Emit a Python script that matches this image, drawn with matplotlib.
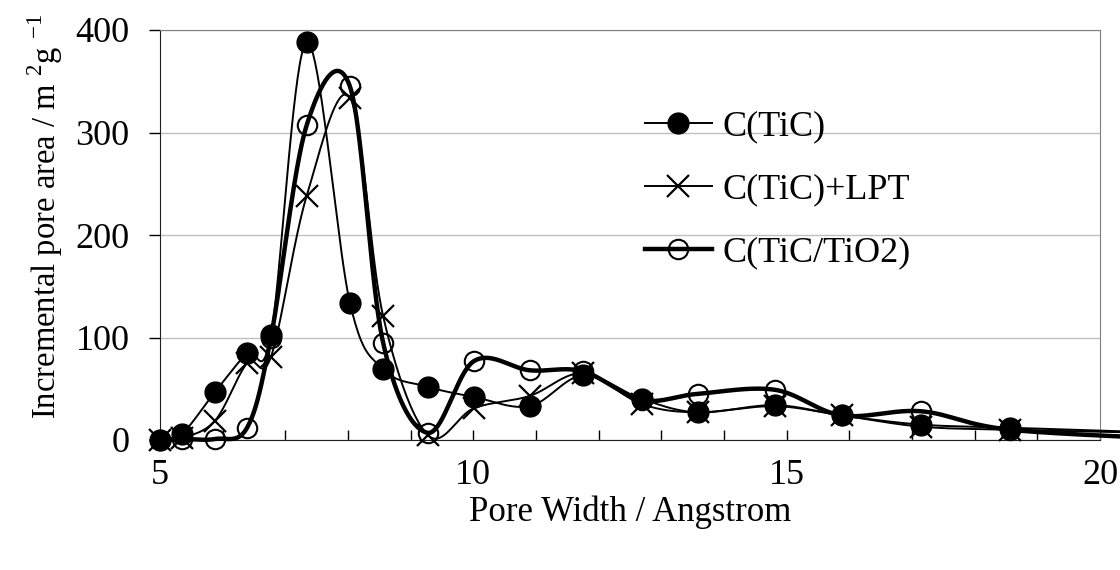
import numpy as np
import matplotlib
matplotlib.use('Agg')
import matplotlib.pyplot as plt
from matplotlib.lines import Line2D

plt.rcParams['font.family'] = ['Liberation Serif', 'DejaVu Serif']
plt.rcParams['mathtext.fontset'] = 'custom'
plt.rcParams['mathtext.rm'] = 'Liberation Serif'

# pore widths (Angstrom); last point lies beyond the axis edge
width = [5.0, 5.35, 5.88, 6.39, 6.77, 7.34, 8.03, 8.56, 9.27, 10.01, 10.9,
         11.75, 12.69, 13.58, 14.81, 15.88, 17.15, 18.57, 21.6]
tic = [0, 6, 47, 85, 102, 388, 134, 69, 52, 42, 33,
       63, 40, 27, 34, 24, 15, 12, 6]
tic_lpt = [0, 2, 19, 75, 81, 238, 334, 121, 5, 31, 43,
           65, 35, 27, 33, 24, 13, 10, 6]
tic_tio2 = [0, 1, 1, 12, 100, 307, 345, 95, 7, 77, 68,
            67, 39, 45, 49, 24, 28, 10, 0]


def smooth(x, y, n=40):
    # excel-like smoothed line (bezier through the points)
    pts = np.column_stack([x, y]).astype(float)
    out = []
    for i in range(len(pts) - 1):
        p0 = pts[i - 1] if i > 0 else pts[i]
        p1, p2 = pts[i], pts[i + 1]
        p3 = pts[i + 2] if i + 2 < len(pts) else pts[i + 1]
        c1 = p1 + (p2 - p0) / 6
        c2 = p2 - (p3 - p1) / 6
        t = np.linspace(0, 1, n)[:, None]
        seg = (1-t)**3*p1 + 3*(1-t)**2*t*c1 + 3*(1-t)*t**2*c2 + t**3*p2
        out.append(seg if i == 0 else seg[1:])
    return np.vstack(out)


fig = plt.figure(figsize=(11.2, 5.7), dpi=100)
ax = fig.add_axes([160/1120, 1-440/570, 940/1120, 410/570])

# C(TiC/TiO2) - thick line, open circles
s = smooth(width, tic_tio2)
ax.plot(s[:, 0], s[:, 1], color='black', lw=3.2, clip_on=False, zorder=3)
ax.plot(width, tic_tio2, ls='none', marker='o', ms=14, mfc='none', mec='black',
        mew=1.5, clip_on=False, zorder=3)

# C(TiC)+LPT - crosses
s = smooth(width, tic_lpt)
ax.plot(s[:, 0], s[:, 1], color='black', lw=1.4, clip_on=False, zorder=4)
ax.plot(width, tic_lpt, ls='none', marker='x', ms=16, mec='black',
        mew=1.6, clip_on=False, zorder=4)

# C(TiC) - filled circles
s = smooth(width, tic)
ax.plot(s[:, 0], s[:, 1], color='black', lw=1.4, clip_on=False, zorder=5)
ax.plot(width, tic, ls='none', marker='o', ms=15, mfc='black', mec='black',
        clip_on=False, zorder=5)

ax.set_xlim(5, 20)
ax.set_ylim(0, 400)
ax.set_xticks([5, 10, 15, 20])
ax.set_xticks(np.arange(5, 21, 1), minor=True)
ax.set_yticks([0, 100, 200, 300, 400])
ax.tick_params(axis='x', which='both', direction='in', length=7, width=1,
               labelsize=26, pad=14)
ax.tick_params(axis='y', direction='out', length=8, width=1, labelsize=26, pad=14)
ax.grid(axis='y', color='#c0c0c0', lw=1)
ax.set_axisbelow(True)
for side in ['top', 'right']:
    ax.spines[side].set_color('#808080')
for side in ['left', 'bottom']:
    ax.spines[side].set_color('#202020')

ax.set_xlabel('Pore Width / Angstrom', fontsize=25, labelpad=2)
ax.set_ylabel('Incremental pore area / m $^{2}$g $^{-1}$', fontsize=23.5)
ax.yaxis.set_label_coords(-95/940, 0.545)

handles = [
    Line2D([], [], color='black', lw=1.4, marker='o', ms=15, mfc='black'),
    Line2D([], [], color='black', lw=1.4, marker='x', ms=16, mew=1.6),
    Line2D([], [], color='black', lw=3.2, marker='o', ms=14, mfc='none', mew=1.5),
]
ax.legend(handles, ['C(TiC)', 'C(TiC)+LPT', 'C(TiC/TiO2)'], frameon=False,
          fontsize=26, loc='upper left', bbox_to_anchor=(645/1120, 1-110/570),
          bbox_transform=fig.transFigure, handlelength=1.85, handletextpad=0.3,
          labelspacing=0.83, borderpad=0, borderaxespad=0)

fig.savefig('out.png', dpi=100)
